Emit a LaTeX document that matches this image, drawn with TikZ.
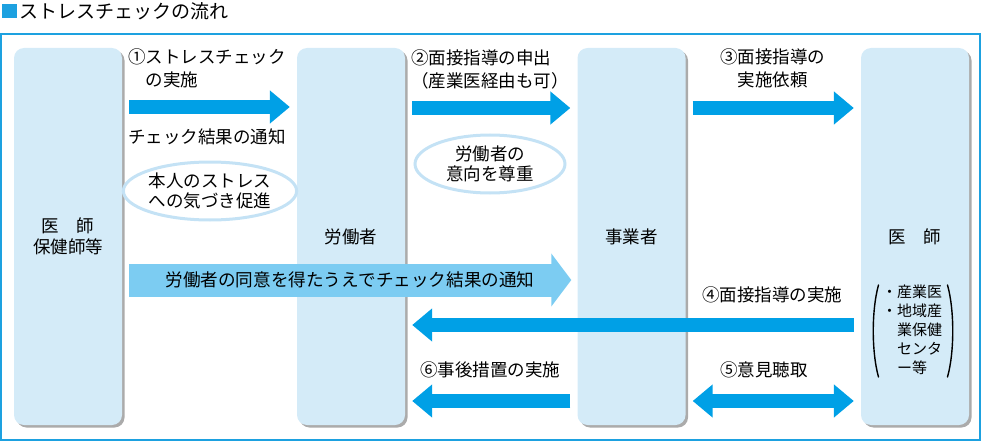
\documentclass[tikz,border=0pt]{standalone}
\usepackage{fontspec}
\setmainfont{Noto Sans CJK JP}
\usetikzlibrary{arrows.meta,shapes.geometric,shadows}
\definecolor{colfill}{RGB}{212,235,248}
\definecolor{arrblue}{RGB}{0,160,230}
\definecolor{arrlight}{RGB}{124,204,242}
\definecolor{ellline}{RGB}{196,226,245}
\definecolor{framecol}{RGB}{29,161,224}
\tikzset{bigtip/.tip={Triangle[length=20pt, width=32pt]},
widetip/.tip={Triangle[length=20pt, width=52pt]}}

\begin{document}
\begin{tikzpicture}[
x = 1pt, y = -1pt,
colrect/.style={rectangle, align = center, fill = colfill, rounded corners = 10pt,
minimum width = 108pt, minimum height = 377pt, inner sep = 0pt,
drop shadow = {shadow xshift = 2.5pt, shadow yshift = -2.5pt, fill = black!55, opacity = 0.6},
font = \fontsize{17.5}{21}\selectfont},
ellrect/.style={ellipse, align = center, draw = ellline, line width = 3pt, fill = white,
minimum width = 150pt, minimum height = 58pt, inner sep = 0pt,
font = \fontsize{17.5}{20}\selectfont},
lbl/.style={align = left, anchor = west, inner sep = 0pt, font = \fontsize{17.5}{23}\selectfont},
modarr/.style={-bigtip, line width = 14pt, draw = arrblue, shorten <= 7pt, shorten >= 7pt},
widearr/.style={-widetip, line width = 33pt, draw = arrlight, shorten <= 7pt, shorten >= 6pt},
paren/.style={line width = 1.4pt, line cap = round}]

\useasboundingbox (0,0) rectangle (982,441);

% title and frame
\fill[framecol] (2,4) rectangle (17,18);
\node[lbl, font = \fontsize{19}{22}\selectfont] (title) at (19,11) {ストレスチェックの流れ};
\draw[framecol, line width = 1.5pt] (1,34) rectangle (980,440);

% columns
\node[colrect] (hoken) at (68,236.5) {医　師\\保健師等};
\node[colrect] (roudou) at (351,236.5) {労働者};
\node[colrect] (jigyou) at (631.5,236.5) {事業者};
\node[colrect] (isi) at (915,236.5) {医　師};
\node[inner sep = 0pt, font = \fontsize{15}{19}\selectfont] (isilist) at (912,332)
{\begin{tabular}{@{}c@{}l@{}}・&産業医\\・&地域産\\&業保健\\&センタ\\&ー等\end{tabular}};
\draw[paren] (878.5,285) .. controls (871.5,310) and (871.5,352) .. (878.5,377);
\draw[paren] (947.5,285) .. controls (954.5,310) and (954.5,352) .. (947.5,377);

% upper arrows
\draw[modarr] (hoken.east |- 0,107) -- (roudou.west |- 0,107);
\draw[modarr] (roudou.east |- 0,108) -- (jigyou.west |- 0,108);
\draw[modarr] (jigyou.east |- 0,108) -- (isi.west |- 0,108);

\node[lbl] (l1) at (128,68.5) {①ストレスチェック\\\quad の実施};
\node[lbl] (l1b) at (128,137) {チェック結果の通知};
\node[lbl] (l2) at (411,69.5) {②面接指導の申出\\（産業医経由も可）};
\node[lbl] (l3) at (720,68.5) {③面接指導の\\\quad 実施依頼};

\node[ellrect] (e1) at (210,191) {本人のストレス\\への気づき促進};
\node[ellrect] (e2) at (490,164) {労働者の\\意向を尊重};

% lower arrows
\draw[widearr] (hoken.east |- 0,280) -- (jigyou.west |- 0,280);
\node[inner sep = 0pt, font = \fontsize{17.6}{21}\selectfont] (wl) at (350,280) {労働者の同意を得たうえでチェック結果の通知};

\draw[modarr] (isi.west |- 0,325) -- (roudou.east |- 0,325);
\draw[modarr] (jigyou.west |- 0,401) -- (roudou.east |- 0,401);
\draw[modarr, bigtip-bigtip] (jigyou.east |- 0,401) -- (isi.west |- 0,401);

\node[lbl] (l4) at (702,295) {④面接指導の実施};
\node[lbl] (l5) at (720,370) {⑤意見聴取};
\node[lbl] (l6) at (420,370) {⑥事後措置の実施};
\end{tikzpicture}
\end{document}
